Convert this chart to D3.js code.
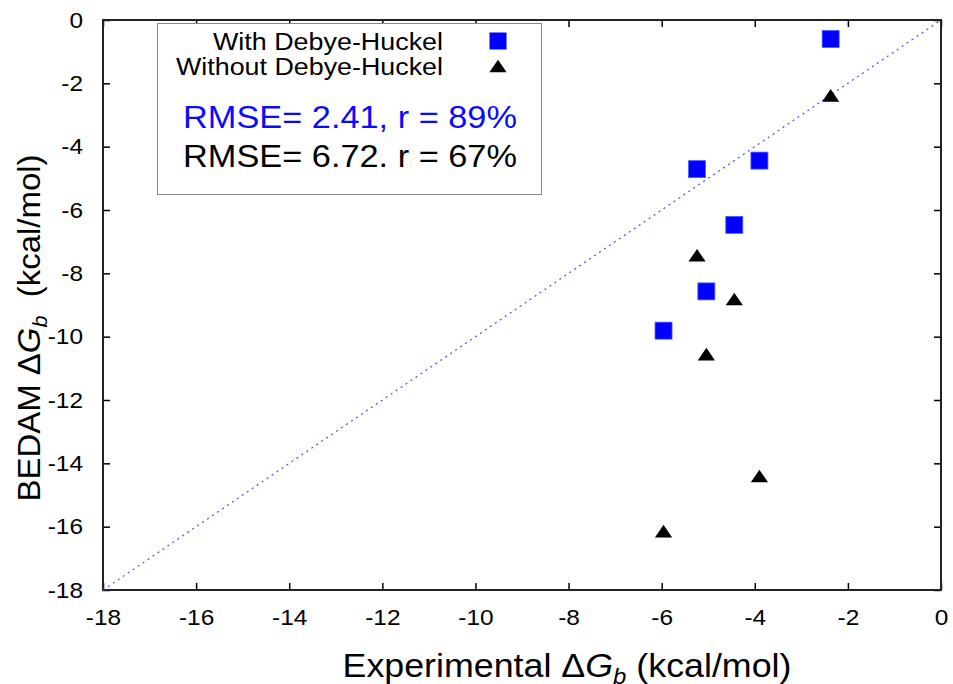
<!DOCTYPE html>
<html>
<head>
<meta charset="utf-8">
<script src="https://cdn.jsdelivr.net/npm/d3@7"></script>
<style>
  body { margin: 0; background: #fff; }
  text { font-family: "Liberation Sans", Arial, sans-serif; }
</style>
</head>
<body>
<div id="chart"></div>
<script>
// binding free energies, kcal/mol
var expWith = [-2.37, -3.90, -5.24, -4.44, -5.04, -5.96];
var bedamWith = [-0.60, -4.44, -4.71, -6.47, -8.57, -9.81];
var expWithout = [-2.37, -5.24, -4.44, -5.04, -3.90, -5.96];
var bedamWithout = [-2.38, -7.43, -8.81, -10.55, -14.40, -16.14];
var axisTicks = [-18, -16, -14, -12, -10, -8, -6, -4, -2, 0];
var seriesNames = ["With Debye-Huckel", "Without Debye-Huckel"];
var statsLines = ["RMSE= 2.41, r = 89%", "RMSE= 6.72. r = 67%"];

var width = 953, height = 684;
var margin = {top: 20, right: 12, bottom: 94, left: 103};
var stretchK = 1.11; // text in the picture is a bit wider than the font

var svg = d3.select('#chart').append('svg')
    .attr('width', width)
    .attr('height', height);

var x = d3.scaleLinear().domain([-18, 0]).range([margin.left, width - margin.right]);
var y = d3.scaleLinear().domain([-18, 0]).range([height - margin.bottom, margin.top]);

// widen text to the measured look
function stretch(sel, k) {
    sel.each(function() {
        var w = this.getComputedTextLength();
        d3.select(this).attr('textLength', w * k).attr('lengthAdjust', 'spacingAndGlyphs');
    });
}

function styleAxis(g, showLabels) {
    g.select('.domain').remove();
    g.attr('font-size', 22).attr('font-family', '"Liberation Sans", Arial, sans-serif');
    g.selectAll('.tick line').attr('stroke', '#000').attr('stroke-width', 1.5);
    g.selectAll('.tick text').attr('fill', '#000');
    if (showLabels) stretch(g.selectAll('.tick text'), stretchK);
}

// plain hyphen for negatives, like the original
var fmt = function(d) { return String(d); };

// bottom / left axes with labels
var gx = svg.append('g')
    .attr('transform', 'translate(0,' + y(-18) + ')')
    .call(d3.axisBottom(x).tickValues(axisTicks).tickFormat(fmt)
        .tickSizeInner(-7).tickSizeOuter(0).tickPadding(19));
styleAxis(gx, true);

var gy = svg.append('g')
    .attr('transform', 'translate(' + x(-18) + ',0)')
    .call(d3.axisLeft(y).tickValues(axisTicks).tickFormat(fmt)
        .tickSizeInner(-7).tickSizeOuter(0).tickPadding(20));
styleAxis(gy, true);

// mirror ticks on top / right
var gt = svg.append('g')
    .attr('transform', 'translate(0,' + y(0) + ')')
    .call(d3.axisTop(x).tickValues(axisTicks).tickSizeInner(-7).tickSizeOuter(0).tickFormat(''));
styleAxis(gt, false);

var gr = svg.append('g')
    .attr('transform', 'translate(' + x(0) + ',0)')
    .call(d3.axisRight(y).tickValues(axisTicks).tickSizeInner(-7).tickSizeOuter(0).tickFormat(''));
styleAxis(gr, false);

// frame
svg.append('rect')
    .attr('x', x(-18))
    .attr('y', y(0))
    .attr('width', x(0) - x(-18))
    .attr('height', y(-18) - y(0))
    .attr('fill', 'none')
    .attr('stroke', '#222')
    .attr('stroke-width', 2);

// y = x reference line
svg.append('line')
    .attr('x1', x(-18)).attr('y1', y(-18))
    .attr('x2', x(0)).attr('y2', y(0))
    .attr('stroke', '#4a4aff')
    .attr('stroke-width', 1.2)
    .attr('stroke-dasharray', '2,4');

var sq = 17;
var triPath = 'M0,-6.3L8.6,6.3L-8.6,6.3Z';

svg.append('g').selectAll('rect')
    .data(expWith.map(function(d, i) { return [d, bedamWith[i]]; }))
    .enter()
    .append('rect')
    .attr('x', function(d) { return x(d[0]) - sq / 2; })
    .attr('y', function(d) { return y(d[1]) - sq / 2; })
    .attr('width', sq)
    .attr('height', sq)
    .attr('fill', '#0000ff')
    .attr('stroke', '#4d5cff')
    .attr('stroke-width', 0.8);

svg.append('g').selectAll('path')
    .data(expWithout.map(function(d, i) { return [d, bedamWithout[i]]; }))
    .enter()
    .append('path')
    .attr('d', triPath)
    .attr('transform', function(d) { return 'translate(' + x(d[0]) + ',' + y(d[1]) + ')'; })
    .attr('fill', '#000');

// legend box
var legend = svg.append('g');
legend.append('rect')
    .attr('x', 157.5).attr('y', 23.5)
    .attr('width', 384).attr('height', 171)
    .attr('fill', '#fff')
    .attr('stroke', '#8a8a8a')
    .attr('stroke-width', 1);

var nameWidths = [230, 267];
legend.selectAll('text.name')
    .data(seriesNames)
    .enter()
    .append('text')
    .attr('class', 'name')
    .attr('x', 443)
    .attr('y', function(d, i) { return 49.5 + i * 25.5; })
    .attr('text-anchor', 'end')
    .attr('font-size', 23.5)
    .attr('fill', '#000')
    .attr('textLength', function(d, i) { return nameWidths[i]; })
    .attr('lengthAdjust', 'spacingAndGlyphs')
    .text(function(d) { return d; });

legend.append('rect')
    .attr('x', 498 - sq / 2).attr('y', 41 - sq / 2)
    .attr('width', sq).attr('height', sq)
    .attr('fill', '#0000ff');
legend.append('path')
    .attr('d', triPath)
    .attr('transform', 'translate(498,66)')
    .attr('fill', '#000');

legend.selectAll('text.stats')
    .data(statsLines)
    .enter()
    .append('text')
    .attr('class', 'stats')
    .attr('x', 183)
    .attr('y', function(d, i) { return 127.5 + i * 39; })
    .attr('font-size', 31)
    .attr('fill', function(d, i) { return i === 0 ? '#0a0aff' : '#000'; })
    .attr('textLength', 334)
    .attr('lengthAdjust', 'spacingAndGlyphs')
    .text(function(d) { return d; });

// axis titles
var xt = svg.append('text')
    .attr('x', 567)
    .attr('y', 677)
    .attr('text-anchor', 'middle')
    .attr('font-size', 33)
    .attr('fill', '#000');
xt.append('tspan').text('Experimental \u0394');
xt.append('tspan').attr('font-style', 'italic').text('G');
xt.append('tspan').attr('font-style', 'italic').attr('font-size', 22).attr('dy', 7).text('b');
xt.append('tspan').attr('dy', -7).text(' (kcal/mol)');
xt.attr('textLength', 449).attr('lengthAdjust', 'spacingAndGlyphs');

var yt = svg.append('text')
    .attr('transform', 'translate(40,328) rotate(-90)')
    .attr('text-anchor', 'middle')
    .attr('font-size', 32)
    .attr('fill', '#000');
yt.append('tspan').text('BEDAM \u0394');
yt.append('tspan').attr('font-style', 'italic').text('G');
yt.append('tspan').attr('font-style', 'italic').attr('font-size', 21).attr('dy', 7).text('b');
yt.append('tspan').attr('dy', -7).text('\u00a0 (kcal/mol)');
yt.attr('textLength', 347).attr('lengthAdjust', 'spacingAndGlyphs');
</script>
</body>
</html>
